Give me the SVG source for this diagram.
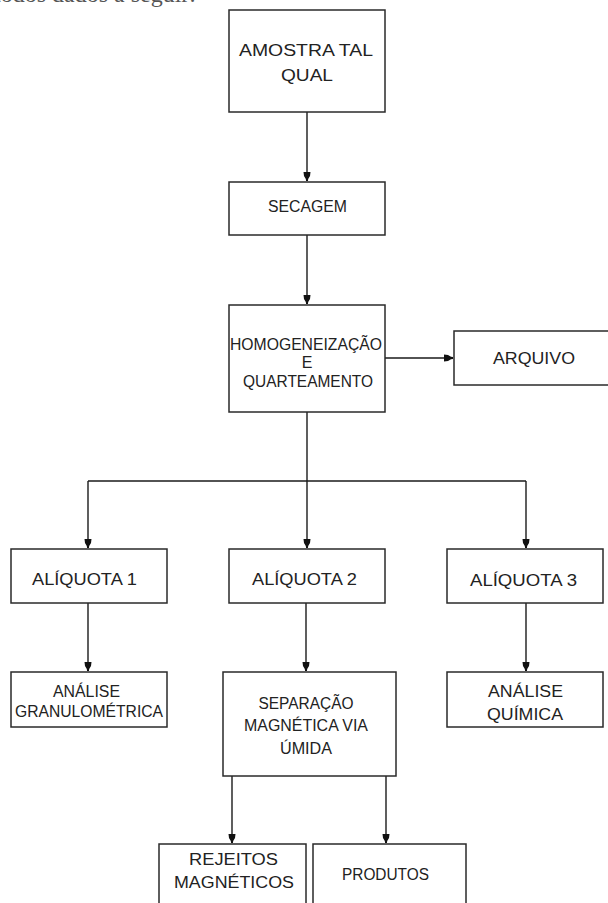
<svg xmlns="http://www.w3.org/2000/svg" width="608" height="903" viewBox="0 0 608 903">
<style>
.box{fill:#fff;stroke:#2a2a2a;stroke-width:1.5}
.lbl{font-family:"Liberation Sans",Arial,sans-serif;font-size:16px;fill:#222;text-anchor:middle}
.con{fill:none;stroke:#1a1a1a;stroke-width:1.4}
.top{font-family:"Liberation Serif","Times New Roman",serif;font-size:24px;fill:#555}
</style>
<defs>
<marker id="ah" viewBox="-10 -5 11 10" refX="0" refY="0" markerWidth="11" markerHeight="10" markerUnits="userSpaceOnUse" orient="auto">
<path d="M-9,-3.5 L-9,3.5 L-5,3 L-2,1.2 L0,0.9 L0,-0.9 L-2,-1.2 L-5,-3 Z" fill="#111"/>
</marker>
</defs>
<rect width="608" height="903" fill="#fff"/>
<text class="top" x="-6" y="1.5">todos dados a seguir:</text>

<g id="connectors">
<line class="con" x1="307" y1="112" x2="307" y2="181" marker-end="url(#ah)"/>
<line class="con" x1="307" y1="235" x2="307" y2="304" marker-end="url(#ah)"/>
<line class="con" x1="385" y1="358" x2="453" y2="358" marker-end="url(#ah)"/>
<line class="con" x1="307" y1="412" x2="307" y2="481"/>
<line class="con" x1="88" y1="481" x2="526" y2="481"/>
<line class="con" x1="88" y1="481" x2="88" y2="548" marker-end="url(#ah)"/>
<line class="con" x1="307" y1="481" x2="307" y2="548" marker-end="url(#ah)"/>
<line class="con" x1="526" y1="481" x2="526" y2="548" marker-end="url(#ah)"/>
<line class="con" x1="88" y1="603" x2="88" y2="671" marker-end="url(#ah)"/>
<line class="con" x1="306" y1="603" x2="306" y2="671" marker-end="url(#ah)"/>
<line class="con" x1="526" y1="603" x2="526" y2="671" marker-end="url(#ah)"/>
<line class="con" x1="232" y1="776" x2="232" y2="843" marker-end="url(#ah)"/>
<line class="con" x1="386" y1="776" x2="386" y2="843" marker-end="url(#ah)"/>
</g>

<g id="amostra">
<rect class="box" x="229" y="10" width="156" height="102"/>
<text class="lbl" x="306" y="56" textLength="134" lengthAdjust="spacingAndGlyphs">AMOSTRA TAL</text>
<text class="lbl" x="307" y="81" textLength="52" lengthAdjust="spacingAndGlyphs">QUAL</text>
</g>
<g id="secagem">
<rect class="box" x="229" y="182" width="156" height="53"/>
<text class="lbl" x="307.5" y="212" textLength="79" lengthAdjust="spacingAndGlyphs">SECAGEM</text>
</g>
<g id="homogeneizacao">
<rect class="box" x="229" y="305" width="156" height="107"/>
<text class="lbl" x="306" y="350" textLength="152" lengthAdjust="spacingAndGlyphs">HOMOGENEIZAÇÃO</text>
<text class="lbl" x="307" y="368">E</text>
<text class="lbl" x="308" y="387" textLength="130" lengthAdjust="spacingAndGlyphs">QUARTEAMENTO</text>
</g>
<g id="arquivo">
<rect class="box" x="454" y="331" width="160" height="54"/>
<text class="lbl" x="534" y="364" textLength="82" lengthAdjust="spacingAndGlyphs">ARQUIVO</text>
</g>
<g id="aliquota1">
<rect class="box" x="11" y="549" width="156" height="54"/>
<text class="lbl" x="84.5" y="585" textLength="105" lengthAdjust="spacingAndGlyphs">ALÍQUOTA 1</text>
</g>
<g id="aliquota2">
<rect class="box" x="229" y="549" width="156" height="54"/>
<text class="lbl" x="304.5" y="585" textLength="105" lengthAdjust="spacingAndGlyphs">ALÍQUOTA 2</text>
</g>
<g id="aliquota3">
<rect class="box" x="447" y="549" width="156" height="54"/>
<text class="lbl" x="523.5" y="586" textLength="107" lengthAdjust="spacingAndGlyphs">ALÍQUOTA 3</text>
</g>
<g id="analise-granulometrica">
<rect class="box" x="11" y="672" width="156" height="55"/>
<text class="lbl" x="86.5" y="697" textLength="67" lengthAdjust="spacingAndGlyphs">ANÁLISE</text>
<text class="lbl" x="89" y="717" textLength="148" lengthAdjust="spacingAndGlyphs">GRANULOMÉTRICA</text>
</g>
<g id="separacao">
<rect class="box" x="223" y="672" width="173" height="104"/>
<text class="lbl" x="306" y="709" textLength="95" lengthAdjust="spacingAndGlyphs">SEPARAÇÃO</text>
<text class="lbl" x="306" y="731" textLength="124" lengthAdjust="spacingAndGlyphs">MAGNÉTICA VIA</text>
<text class="lbl" x="306" y="754" textLength="52" lengthAdjust="spacingAndGlyphs">ÚMIDA</text>
</g>
<g id="analise-quimica">
<rect class="box" x="447" y="672" width="156" height="55"/>
<text class="lbl" x="525.5" y="697" textLength="75" lengthAdjust="spacingAndGlyphs">ANÁLISE</text>
<text class="lbl" x="525" y="720" textLength="76" lengthAdjust="spacingAndGlyphs">QUÍMICA</text>
</g>
<g id="rejeitos">
<rect class="box" x="159" y="844" width="147" height="70"/>
<text class="lbl" x="233.5" y="865" textLength="89" lengthAdjust="spacingAndGlyphs">REJEITOS</text>
<text class="lbl" x="234" y="888" textLength="120" lengthAdjust="spacingAndGlyphs">MAGNÉTICOS</text>
</g>
<g id="produtos">
<rect class="box" x="313" y="844" width="153" height="70"/>
<text class="lbl" x="385.5" y="880" textLength="87" lengthAdjust="spacingAndGlyphs">PRODUTOS</text>
</g>
</svg>
